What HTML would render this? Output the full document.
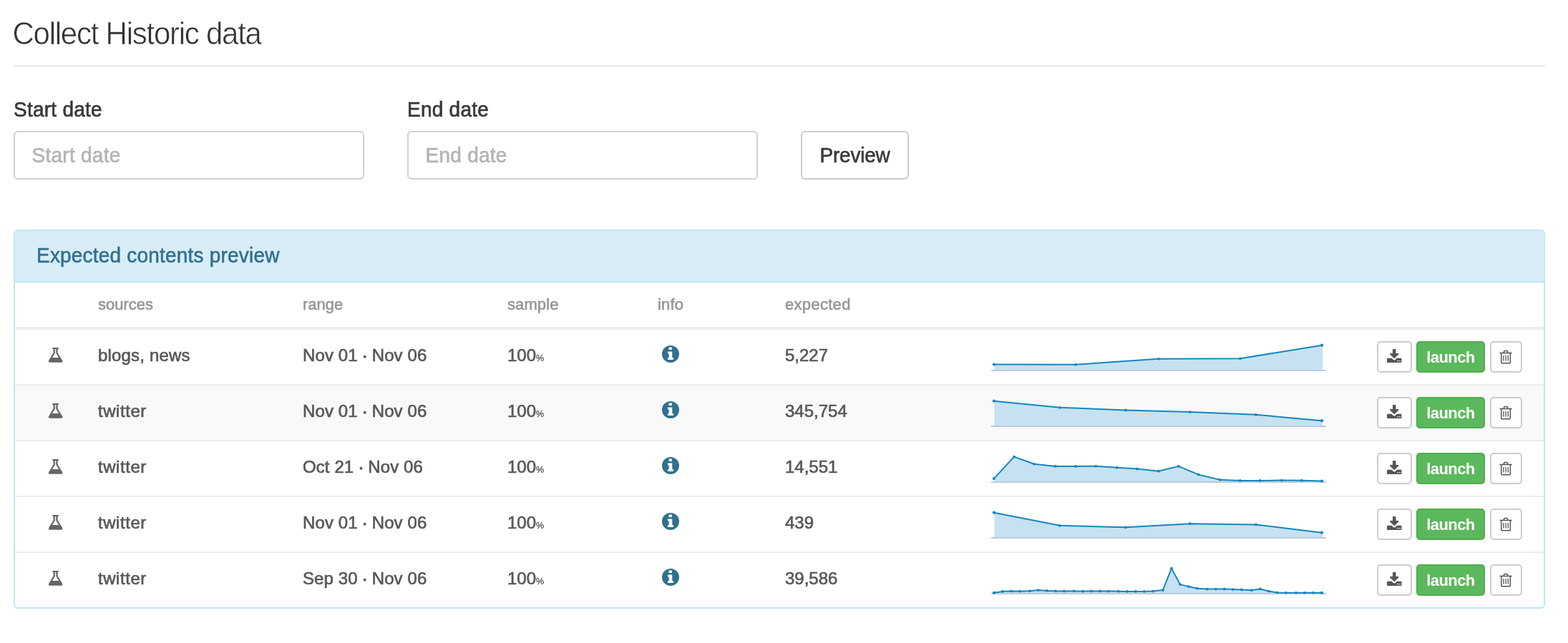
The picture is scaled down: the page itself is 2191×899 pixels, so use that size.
<!DOCTYPE html>
<html lang="en">
<head>
<meta charset="utf-8">
<title>Collect Historic data</title>
<style>
*{box-sizing:border-box;}
html,body{margin:0;padding:0;background:#fff;}
body{font-family:"Liberation Sans",sans-serif;font-size:28px;line-height:40px;color:#333;width:2191px;height:899px;overflow:hidden;position:relative;}
.title{position:absolute;left:17.5px;top:23.5px;font-size:42px;line-height:48px;letter-spacing:-1.25px;color:#333;-webkit-text-stroke:0.6px #fff;white-space:nowrap;transform:scaleY(1.035);transform-origin:0 78%;}
.rule{position:absolute;left:19px;top:91px;width:2140px;height:2px;background:#e5e5e5;}
.lbl{position:absolute;top:133.7px;font-size:28px;line-height:40px;letter-spacing:0.25px;color:#383838;-webkit-text-stroke:0.65px #383838;white-space:nowrap;transform:scaleY(1.03);transform-origin:0 50%;}
.inp{position:absolute;top:183px;width:490px;height:68px;border:2px solid #d0d0d0;border-radius:6px;background:#fff;padding:0 23.6px;font-size:28px;line-height:65px;letter-spacing:0.25px;color:#b3b3b3;-webkit-text-stroke:0.6px #b3b3b3;white-space:nowrap;}
.inp span,.btn-prev span,.phead span{display:inline-block;transform:scaleY(1.03);transform-origin:0 50%;}
.btn-prev{position:absolute;left:1119px;top:183px;width:151px;height:68px;border:2px solid #ccc;border-radius:6px;background:#fff;font-size:28px;line-height:66.4px;color:#3a3a3a;letter-spacing:-0.2px;-webkit-text-stroke:0.6px #3a3a3a;text-align:center;white-space:nowrap;}
.panel{position:absolute;left:19px;top:321px;width:2140px;height:530px;border:2px solid #bce8f1;border-radius:6px;background:#fff;overflow:hidden;}
.phead{position:absolute;left:0;top:0;width:2136px;height:72px;background:#d9edf7;border-bottom:2px solid #bce8f1;color:#31708f;font-size:28px;line-height:70.2px;letter-spacing:0.2px;-webkit-text-stroke:0.55px #31708f;padding-left:30px;white-space:nowrap;}
.thead{position:absolute;left:0;top:72px;width:2136px;height:66px;border-bottom:4px solid #eee;font-size:22px;color:#959595;}
.thead span{position:absolute;top:1px;line-height:60px;white-space:nowrap;-webkit-text-stroke:0.55px #959595;}
.row{position:absolute;left:0;width:2136px;height:78px;border-bottom:2px solid #ececec;}
.row.last{border-bottom:0;height:76px;}
.row.hov{background:#f9f9f9;}
.c{position:absolute;font-size:24px;line-height:34px;color:#585858;white-space:nowrap;letter-spacing:0.17px;-webkit-text-stroke:0.65px #585858;}
.dot{margin:0 -0.9px 0 -0.7px;-webkit-text-stroke:1px #585858;}
.c.n{letter-spacing:0;}
.c.r{letter-spacing:0.1px;}
.c.tw{letter-spacing:0.55px;}
.pc{font-size:12.5px;letter-spacing:0;-webkit-text-stroke:0.3px #585858;}
.ico{position:absolute;}
.spark{position:absolute;}
.b{position:absolute;height:44px;border:2px solid #ccc;border-radius:5px;background:#fff;}
.b.launch{background:#5cb85c;border-color:#4cae4c;color:#fff;font-weight:bold;font-size:22px;line-height:41.5px;text-align:center;letter-spacing:-0.6px;}
</style>
</head>
<body>
<div class="title">Collect Historic data</div>
<div class="rule"></div>
<div class="lbl" style="left:19px">Start date</div>
<div class="lbl" style="left:569px">End date</div>
<div class="inp" style="left:19px"><span>Start date</span></div>
<div class="inp" style="left:569px"><span>End date</span></div>
<div class="btn-prev"><span>Preview</span></div>
<div class="panel">
<div class="phead"><span>Expected contents preview</span></div>
<div class="thead"><span style="left:116px">sources</span><span style="left:402px">range</span><span style="left:688px;letter-spacing:0.1px">sample</span><span style="left:898px;letter-spacing:0.15px">info</span><span style="left:1076px;letter-spacing:0.3px">expected</span></div>
<div class="row" style="top:138px"></div>
<svg class="ico" style="left:45px;top:162px" width="23.2" height="24" viewBox="0 0 24 24" preserveAspectRatio="none"><path fill="#666" fill-rule="evenodd" d="M8.3 1.1 h7.4 a0.9 0.9 0 0 1 0 1.8 h-0.55 v5.35 l6.55 10.4 c0.9 1.5 0.3 3.15 -1.7 3.15 h-16 c-2 0 -2.6 -1.65 -1.7 -3.15 l6.55 -10.4 v-5.35 h-0.55 a0.9 0.9 0 0 1 0 -1.8 zM11.25 2.9 v5.9 l-4.0 6.2 h9.5 l-4.0 -6.2 v-5.9 z"/></svg><span class="c " style="left:116px;top:157px">blogs, news</span><span class="c r" style="left:402px;top:157px">Nov 01 <span class="dot">·</span> Nov 06</span><span class="c n" style="left:688px;top:157px">100<span class="pc">%</span></span><svg class="ico" style="left:904px;top:160px" width="24" height="24" viewBox="0 0 24 24"><circle cx="12" cy="12" r="12" fill="#31708f"/><path fill="#fff" d="M10.1 2.4 h3.4 a0.4 0.4 0 0 1 0.4 0.4 v2.8 a0.4 0.4 0 0 1 -0.4 0.4 h-3.6 a0.4 0.4 0 0 1 -0.4 -0.4 v-2.8 a0.4 0.4 0 0 1 0.4 -0.4 zM8.4 8.4 h5.5 a0.4 0.4 0 0 1 0.4 0.4 v8.1 h1.3 a0.4 0.4 0 0 1 0.4 0.4 v2.4 a0.4 0.4 0 0 1 -0.4 0.4 h-7.2 a0.4 0.4 0 0 1 -0.4 -0.4 v-2.4 a0.4 0.4 0 0 1 0.4 -0.4 h1.3 v-5.3 h-1.3 a0.4 0.4 0 0 1 -0.4 -0.4 v-2.4 a0.4 0.4 0 0 1 0.4 -0.4 z"/></svg><span class="c n" style="left:1076px;top:157px">5,227</span><svg class="spark" style="left:1359px;top:138px" width="480" height="76" viewBox="0 0 480 76"><path d="M9.50,57.00 L9.50,48.60 L123.00,48.80 L238.90,40.80 L352.90,40.30 L468.10,21.70 L468.10,57.00 Z" fill="#c6e2f0"/><rect x="5" y="56" width="468" height="2" fill="#bccbdd"/><polyline points="8.90,48.60 123.00,48.80 238.90,40.80 352.90,40.30 467.10,21.70" fill="none" stroke="#1586c0" stroke-width="2" stroke-linejoin="round" stroke-linecap="round"/><g fill="#1586c0"><circle cx="8.90" cy="48.60" r="2.1"/><circle cx="123.00" cy="48.80" r="1.9"/><circle cx="238.90" cy="40.80" r="1.9"/><circle cx="352.90" cy="40.30" r="1.9"/><circle cx="467.10" cy="21.70" r="2.1"/></g></svg><div class="b" style="left:1903px;top:154px;width:49px"><svg width="24" height="24" viewBox="0 0 24 24" style="position:absolute;left:10px;top:8px"><path fill="#555" fill-rule="evenodd" d="M10.9 1.1 h2.7 a0.9 0.9 0 0 1 0.9 0.9 v5.1 h3.1 c0.8 0 1.1 0.8 0.6 1.35 l-5.3 5.3 a0.9 0.9 0 0 1 -1.3 0 l-5.3 -5.3 c-0.5 -0.55 -0.2 -1.35 0.6 -1.35 h3.1 v-5.1 a0.9 0.9 0 0 1 0.9 -0.9 zM3.1 13.8 h5.6 l1.9 1.9 a2.3 2.3 0 0 0 3.3 0 l1.9 -1.9 h5.6 a1.1 1.1 0 0 1 1.1 1.1 v4.0 a1.1 1.1 0 0 1 -1.1 1.1 h-18.3 a1.1 1.1 0 0 1 -1.1 -1.1 v-4.0 a1.1 1.1 0 0 1 1.1 -1.1 zM16.2 16.9 h1.7 v1.3 h-1.7 z M19.2 16.9 h1.7 v1.3 h-1.7 z"/></svg></div><div class="b launch" style="left:1958px;top:154px;width:96px"><span>launch</span></div><div class="b" style="left:2061px;top:154px;width:45px"><svg width="24" height="24" viewBox="0 0 24 24" style="position:absolute;left:8px;top:8px"><g fill="none" stroke="#555" stroke-width="1.5" stroke-linecap="round" stroke-linejoin="round"><path d="M4.1 6.55 H20.1"/><path d="M9.0 6.3 L9.8 4.2 a1 1 0 0 1 .9 -.65 h2.8 a1 1 0 0 1 .9 .65 L15.2 6.3"/><path d="M5.8 6.8 V18.9 a1.9 1.9 0 0 0 1.9 1.9 h8.8 a1.9 1.9 0 0 0 1.9 -1.9 V6.8"/></g><g fill="none" stroke="#555" stroke-width="1.3" stroke-linecap="round"><path d="M8.9 10.4 V17"/><path d="M12.1 10.4 V17"/><path d="M15.3 10.4 V17"/></g></svg></div>
<div class="row hov" style="top:216px"></div>
<svg class="ico" style="left:45px;top:240px" width="23.2" height="24" viewBox="0 0 24 24" preserveAspectRatio="none"><path fill="#666" fill-rule="evenodd" d="M8.3 1.1 h7.4 a0.9 0.9 0 0 1 0 1.8 h-0.55 v5.35 l6.55 10.4 c0.9 1.5 0.3 3.15 -1.7 3.15 h-16 c-2 0 -2.6 -1.65 -1.7 -3.15 l6.55 -10.4 v-5.35 h-0.55 a0.9 0.9 0 0 1 0 -1.8 zM11.25 2.9 v5.9 l-4.0 6.2 h9.5 l-4.0 -6.2 v-5.9 z"/></svg><span class="c tw" style="left:116px;top:235px">twitter</span><span class="c r" style="left:402px;top:235px">Nov 01 <span class="dot">·</span> Nov 06</span><span class="c n" style="left:688px;top:235px">100<span class="pc">%</span></span><svg class="ico" style="left:904px;top:238px" width="24" height="24" viewBox="0 0 24 24"><circle cx="12" cy="12" r="12" fill="#31708f"/><path fill="#fff" d="M10.1 2.4 h3.4 a0.4 0.4 0 0 1 0.4 0.4 v2.8 a0.4 0.4 0 0 1 -0.4 0.4 h-3.6 a0.4 0.4 0 0 1 -0.4 -0.4 v-2.8 a0.4 0.4 0 0 1 0.4 -0.4 zM8.4 8.4 h5.5 a0.4 0.4 0 0 1 0.4 0.4 v8.1 h1.3 a0.4 0.4 0 0 1 0.4 0.4 v2.4 a0.4 0.4 0 0 1 -0.4 0.4 h-7.2 a0.4 0.4 0 0 1 -0.4 -0.4 v-2.4 a0.4 0.4 0 0 1 0.4 -0.4 h1.3 v-5.3 h-1.3 a0.4 0.4 0 0 1 -0.4 -0.4 v-2.4 a0.4 0.4 0 0 1 0.4 -0.4 z"/></svg><span class="c n" style="left:1076px;top:235px">345,754</span><svg class="spark" style="left:1359px;top:216px" width="480" height="76" viewBox="0 0 480 76"><path d="M9.50,57.00 L9.50,21.65 L100.90,30.80 L193.00,34.50 L282.80,37.06 L374.90,40.80 L468.10,49.15 L468.10,57.00 Z" fill="#c6e2f0"/><rect x="5" y="56" width="468" height="2" fill="#bccbdd"/><polyline points="8.90,21.65 100.90,30.80 193.00,34.50 282.80,37.06 374.90,40.80 467.10,49.15" fill="none" stroke="#1586c0" stroke-width="2" stroke-linejoin="round" stroke-linecap="round"/><g fill="#1586c0"><circle cx="8.90" cy="21.65" r="2.1"/><circle cx="100.90" cy="30.80" r="1.9"/><circle cx="193.00" cy="34.50" r="1.9"/><circle cx="282.80" cy="37.06" r="1.9"/><circle cx="374.90" cy="40.80" r="1.9"/><circle cx="467.10" cy="49.15" r="2.1"/></g></svg><div class="b" style="left:1903px;top:232px;width:49px"><svg width="24" height="24" viewBox="0 0 24 24" style="position:absolute;left:10px;top:8px"><path fill="#555" fill-rule="evenodd" d="M10.9 1.1 h2.7 a0.9 0.9 0 0 1 0.9 0.9 v5.1 h3.1 c0.8 0 1.1 0.8 0.6 1.35 l-5.3 5.3 a0.9 0.9 0 0 1 -1.3 0 l-5.3 -5.3 c-0.5 -0.55 -0.2 -1.35 0.6 -1.35 h3.1 v-5.1 a0.9 0.9 0 0 1 0.9 -0.9 zM3.1 13.8 h5.6 l1.9 1.9 a2.3 2.3 0 0 0 3.3 0 l1.9 -1.9 h5.6 a1.1 1.1 0 0 1 1.1 1.1 v4.0 a1.1 1.1 0 0 1 -1.1 1.1 h-18.3 a1.1 1.1 0 0 1 -1.1 -1.1 v-4.0 a1.1 1.1 0 0 1 1.1 -1.1 zM16.2 16.9 h1.7 v1.3 h-1.7 z M19.2 16.9 h1.7 v1.3 h-1.7 z"/></svg></div><div class="b launch" style="left:1958px;top:232px;width:96px"><span>launch</span></div><div class="b" style="left:2061px;top:232px;width:45px"><svg width="24" height="24" viewBox="0 0 24 24" style="position:absolute;left:8px;top:8px"><g fill="none" stroke="#555" stroke-width="1.5" stroke-linecap="round" stroke-linejoin="round"><path d="M4.1 6.55 H20.1"/><path d="M9.0 6.3 L9.8 4.2 a1 1 0 0 1 .9 -.65 h2.8 a1 1 0 0 1 .9 .65 L15.2 6.3"/><path d="M5.8 6.8 V18.9 a1.9 1.9 0 0 0 1.9 1.9 h8.8 a1.9 1.9 0 0 0 1.9 -1.9 V6.8"/></g><g fill="none" stroke="#555" stroke-width="1.3" stroke-linecap="round"><path d="M8.9 10.4 V17"/><path d="M12.1 10.4 V17"/><path d="M15.3 10.4 V17"/></g></svg></div>
<div class="row" style="top:294px"></div>
<svg class="ico" style="left:45px;top:318px" width="23.2" height="24" viewBox="0 0 24 24" preserveAspectRatio="none"><path fill="#666" fill-rule="evenodd" d="M8.3 1.1 h7.4 a0.9 0.9 0 0 1 0 1.8 h-0.55 v5.35 l6.55 10.4 c0.9 1.5 0.3 3.15 -1.7 3.15 h-16 c-2 0 -2.6 -1.65 -1.7 -3.15 l6.55 -10.4 v-5.35 h-0.55 a0.9 0.9 0 0 1 0 -1.8 zM11.25 2.9 v5.9 l-4.0 6.2 h9.5 l-4.0 -6.2 v-5.9 z"/></svg><span class="c tw" style="left:116px;top:313px">twitter</span><span class="c r" style="left:402px;top:313px">Oct 21 <span class="dot">·</span> Nov 06</span><span class="c n" style="left:688px;top:313px">100<span class="pc">%</span></span><svg class="ico" style="left:904px;top:316px" width="24" height="24" viewBox="0 0 24 24"><circle cx="12" cy="12" r="12" fill="#31708f"/><path fill="#fff" d="M10.1 2.4 h3.4 a0.4 0.4 0 0 1 0.4 0.4 v2.8 a0.4 0.4 0 0 1 -0.4 0.4 h-3.6 a0.4 0.4 0 0 1 -0.4 -0.4 v-2.8 a0.4 0.4 0 0 1 0.4 -0.4 zM8.4 8.4 h5.5 a0.4 0.4 0 0 1 0.4 0.4 v8.1 h1.3 a0.4 0.4 0 0 1 0.4 0.4 v2.4 a0.4 0.4 0 0 1 -0.4 0.4 h-7.2 a0.4 0.4 0 0 1 -0.4 -0.4 v-2.4 a0.4 0.4 0 0 1 0.4 -0.4 h1.3 v-5.3 h-1.3 a0.4 0.4 0 0 1 -0.4 -0.4 v-2.4 a0.4 0.4 0 0 1 0.4 -0.4 z"/></svg><span class="c n" style="left:1076px;top:313px">14,551</span><svg class="spark" style="left:1359px;top:294px" width="480" height="76" viewBox="0 0 480 76"><path d="M9.50,57.00 L9.50,52.10 L37.00,21.65 L65.00,31.80 L94.80,34.90 L123.00,35.00 L151.10,34.80 L180.90,36.80 L209.00,38.50 L238.80,41.70 L266.90,34.90 L294.80,46.60 L324.70,53.80 L352.90,54.90 L381.00,55.00 L410.90,54.60 L438.80,54.70 L468.10,55.50 L468.10,57.00 Z" fill="#c6e2f0"/><rect x="5" y="56" width="468" height="2" fill="#bccbdd"/><polyline points="8.90,52.10 37.00,21.65 65.00,31.80 94.80,34.90 123.00,35.00 151.10,34.80 180.90,36.80 209.00,38.50 238.80,41.70 266.90,34.90 294.80,46.60 324.70,53.80 352.90,54.90 381.00,55.00 410.90,54.60 438.80,54.70 467.10,55.50" fill="none" stroke="#1586c0" stroke-width="2" stroke-linejoin="round" stroke-linecap="round"/><g fill="#1586c0"><circle cx="8.90" cy="52.10" r="2.1"/><circle cx="37.00" cy="21.65" r="1.9"/><circle cx="65.00" cy="31.80" r="1.9"/><circle cx="94.80" cy="34.90" r="1.9"/><circle cx="123.00" cy="35.00" r="1.9"/><circle cx="151.10" cy="34.80" r="1.9"/><circle cx="180.90" cy="36.80" r="1.9"/><circle cx="209.00" cy="38.50" r="1.9"/><circle cx="238.80" cy="41.70" r="1.9"/><circle cx="266.90" cy="34.90" r="1.9"/><circle cx="294.80" cy="46.60" r="1.9"/><circle cx="324.70" cy="53.80" r="1.9"/><circle cx="352.90" cy="54.90" r="1.9"/><circle cx="381.00" cy="55.00" r="1.9"/><circle cx="410.90" cy="54.60" r="1.9"/><circle cx="438.80" cy="54.70" r="1.9"/><circle cx="467.10" cy="55.50" r="2.1"/></g></svg><div class="b" style="left:1903px;top:310px;width:49px"><svg width="24" height="24" viewBox="0 0 24 24" style="position:absolute;left:10px;top:8px"><path fill="#555" fill-rule="evenodd" d="M10.9 1.1 h2.7 a0.9 0.9 0 0 1 0.9 0.9 v5.1 h3.1 c0.8 0 1.1 0.8 0.6 1.35 l-5.3 5.3 a0.9 0.9 0 0 1 -1.3 0 l-5.3 -5.3 c-0.5 -0.55 -0.2 -1.35 0.6 -1.35 h3.1 v-5.1 a0.9 0.9 0 0 1 0.9 -0.9 zM3.1 13.8 h5.6 l1.9 1.9 a2.3 2.3 0 0 0 3.3 0 l1.9 -1.9 h5.6 a1.1 1.1 0 0 1 1.1 1.1 v4.0 a1.1 1.1 0 0 1 -1.1 1.1 h-18.3 a1.1 1.1 0 0 1 -1.1 -1.1 v-4.0 a1.1 1.1 0 0 1 1.1 -1.1 zM16.2 16.9 h1.7 v1.3 h-1.7 z M19.2 16.9 h1.7 v1.3 h-1.7 z"/></svg></div><div class="b launch" style="left:1958px;top:310px;width:96px"><span>launch</span></div><div class="b" style="left:2061px;top:310px;width:45px"><svg width="24" height="24" viewBox="0 0 24 24" style="position:absolute;left:8px;top:8px"><g fill="none" stroke="#555" stroke-width="1.5" stroke-linecap="round" stroke-linejoin="round"><path d="M4.1 6.55 H20.1"/><path d="M9.0 6.3 L9.8 4.2 a1 1 0 0 1 .9 -.65 h2.8 a1 1 0 0 1 .9 .65 L15.2 6.3"/><path d="M5.8 6.8 V18.9 a1.9 1.9 0 0 0 1.9 1.9 h8.8 a1.9 1.9 0 0 0 1.9 -1.9 V6.8"/></g><g fill="none" stroke="#555" stroke-width="1.3" stroke-linecap="round"><path d="M8.9 10.4 V17"/><path d="M12.1 10.4 V17"/><path d="M15.3 10.4 V17"/></g></svg></div>
<div class="row" style="top:372px"></div>
<svg class="ico" style="left:45px;top:396px" width="23.2" height="24" viewBox="0 0 24 24" preserveAspectRatio="none"><path fill="#666" fill-rule="evenodd" d="M8.3 1.1 h7.4 a0.9 0.9 0 0 1 0 1.8 h-0.55 v5.35 l6.55 10.4 c0.9 1.5 0.3 3.15 -1.7 3.15 h-16 c-2 0 -2.6 -1.65 -1.7 -3.15 l6.55 -10.4 v-5.35 h-0.55 a0.9 0.9 0 0 1 0 -1.8 zM11.25 2.9 v5.9 l-4.0 6.2 h9.5 l-4.0 -6.2 v-5.9 z"/></svg><span class="c tw" style="left:116px;top:391px">twitter</span><span class="c r" style="left:402px;top:391px">Nov 01 <span class="dot">·</span> Nov 06</span><span class="c n" style="left:688px;top:391px">100<span class="pc">%</span></span><svg class="ico" style="left:904px;top:394px" width="24" height="24" viewBox="0 0 24 24"><circle cx="12" cy="12" r="12" fill="#31708f"/><path fill="#fff" d="M10.1 2.4 h3.4 a0.4 0.4 0 0 1 0.4 0.4 v2.8 a0.4 0.4 0 0 1 -0.4 0.4 h-3.6 a0.4 0.4 0 0 1 -0.4 -0.4 v-2.8 a0.4 0.4 0 0 1 0.4 -0.4 zM8.4 8.4 h5.5 a0.4 0.4 0 0 1 0.4 0.4 v8.1 h1.3 a0.4 0.4 0 0 1 0.4 0.4 v2.4 a0.4 0.4 0 0 1 -0.4 0.4 h-7.2 a0.4 0.4 0 0 1 -0.4 -0.4 v-2.4 a0.4 0.4 0 0 1 0.4 -0.4 h1.3 v-5.3 h-1.3 a0.4 0.4 0 0 1 -0.4 -0.4 v-2.4 a0.4 0.4 0 0 1 0.4 -0.4 z"/></svg><span class="c n" style="left:1076px;top:391px">439</span><svg class="spark" style="left:1359px;top:372px" width="480" height="76" viewBox="0 0 480 76"><path d="M9.50,57.00 L9.50,21.65 L100.90,39.80 L193.00,42.30 L282.80,37.20 L374.90,38.40 L468.10,49.70 L468.10,57.00 Z" fill="#c6e2f0"/><rect x="5" y="56" width="468" height="2" fill="#bccbdd"/><polyline points="8.90,21.65 100.90,39.80 193.00,42.30 282.80,37.20 374.90,38.40 467.10,49.70" fill="none" stroke="#1586c0" stroke-width="2" stroke-linejoin="round" stroke-linecap="round"/><g fill="#1586c0"><circle cx="8.90" cy="21.65" r="2.1"/><circle cx="100.90" cy="39.80" r="1.9"/><circle cx="193.00" cy="42.30" r="1.9"/><circle cx="282.80" cy="37.20" r="1.9"/><circle cx="374.90" cy="38.40" r="1.9"/><circle cx="467.10" cy="49.70" r="2.1"/></g></svg><div class="b" style="left:1903px;top:388px;width:49px"><svg width="24" height="24" viewBox="0 0 24 24" style="position:absolute;left:10px;top:8px"><path fill="#555" fill-rule="evenodd" d="M10.9 1.1 h2.7 a0.9 0.9 0 0 1 0.9 0.9 v5.1 h3.1 c0.8 0 1.1 0.8 0.6 1.35 l-5.3 5.3 a0.9 0.9 0 0 1 -1.3 0 l-5.3 -5.3 c-0.5 -0.55 -0.2 -1.35 0.6 -1.35 h3.1 v-5.1 a0.9 0.9 0 0 1 0.9 -0.9 zM3.1 13.8 h5.6 l1.9 1.9 a2.3 2.3 0 0 0 3.3 0 l1.9 -1.9 h5.6 a1.1 1.1 0 0 1 1.1 1.1 v4.0 a1.1 1.1 0 0 1 -1.1 1.1 h-18.3 a1.1 1.1 0 0 1 -1.1 -1.1 v-4.0 a1.1 1.1 0 0 1 1.1 -1.1 zM16.2 16.9 h1.7 v1.3 h-1.7 z M19.2 16.9 h1.7 v1.3 h-1.7 z"/></svg></div><div class="b launch" style="left:1958px;top:388px;width:96px"><span>launch</span></div><div class="b" style="left:2061px;top:388px;width:45px"><svg width="24" height="24" viewBox="0 0 24 24" style="position:absolute;left:8px;top:8px"><g fill="none" stroke="#555" stroke-width="1.5" stroke-linecap="round" stroke-linejoin="round"><path d="M4.1 6.55 H20.1"/><path d="M9.0 6.3 L9.8 4.2 a1 1 0 0 1 .9 -.65 h2.8 a1 1 0 0 1 .9 .65 L15.2 6.3"/><path d="M5.8 6.8 V18.9 a1.9 1.9 0 0 0 1.9 1.9 h8.8 a1.9 1.9 0 0 0 1.9 -1.9 V6.8"/></g><g fill="none" stroke="#555" stroke-width="1.3" stroke-linecap="round"><path d="M8.9 10.4 V17"/><path d="M12.1 10.4 V17"/><path d="M15.3 10.4 V17"/></g></svg></div>
<div class="row last" style="top:450px"></div>
<svg class="ico" style="left:45px;top:474px" width="23.2" height="24" viewBox="0 0 24 24" preserveAspectRatio="none"><path fill="#666" fill-rule="evenodd" d="M8.3 1.1 h7.4 a0.9 0.9 0 0 1 0 1.8 h-0.55 v5.35 l6.55 10.4 c0.9 1.5 0.3 3.15 -1.7 3.15 h-16 c-2 0 -2.6 -1.65 -1.7 -3.15 l6.55 -10.4 v-5.35 h-0.55 a0.9 0.9 0 0 1 0 -1.8 zM11.25 2.9 v5.9 l-4.0 6.2 h9.5 l-4.0 -6.2 v-5.9 z"/></svg><span class="c tw" style="left:116px;top:469px">twitter</span><span class="c r" style="left:402px;top:469px">Sep 30 <span class="dot">·</span> Nov 06</span><span class="c n" style="left:688px;top:469px">100<span class="pc">%</span></span><svg class="ico" style="left:904px;top:472px" width="24" height="24" viewBox="0 0 24 24"><circle cx="12" cy="12" r="12" fill="#31708f"/><path fill="#fff" d="M10.1 2.4 h3.4 a0.4 0.4 0 0 1 0.4 0.4 v2.8 a0.4 0.4 0 0 1 -0.4 0.4 h-3.6 a0.4 0.4 0 0 1 -0.4 -0.4 v-2.8 a0.4 0.4 0 0 1 0.4 -0.4 zM8.4 8.4 h5.5 a0.4 0.4 0 0 1 0.4 0.4 v8.1 h1.3 a0.4 0.4 0 0 1 0.4 0.4 v2.4 a0.4 0.4 0 0 1 -0.4 0.4 h-7.2 a0.4 0.4 0 0 1 -0.4 -0.4 v-2.4 a0.4 0.4 0 0 1 0.4 -0.4 h1.3 v-5.3 h-1.3 a0.4 0.4 0 0 1 -0.4 -0.4 v-2.4 a0.4 0.4 0 0 1 0.4 -0.4 z"/></svg><span class="c n" style="left:1076px;top:469px">39,586</span><svg class="spark" style="left:1359px;top:450px" width="480" height="76" viewBox="0 0 480 76"><path d="M9.56,57.00 L9.56,55.80 L20.90,54.00 L32.90,53.40 L44.90,53.70 L58.90,53.30 L70.90,52.10 L82.90,52.95 L94.90,53.40 L106.90,53.40 L120.90,53.40 L132.90,53.70 L144.90,53.50 L156.90,53.40 L169.00,53.60 L182.80,53.70 L194.90,53.90 L206.90,53.90 L218.96,53.90 L230.90,53.60 L244.90,52.00 L256.96,21.60 L269.00,44.10 L280.90,47.10 L292.90,49.70 L306.90,50.60 L318.90,50.55 L330.90,50.50 L342.90,51.10 L354.90,51.50 L368.90,52.20 L380.90,50.50 L392.90,53.60 L404.90,55.60 L416.90,55.80 L430.90,55.80 L442.90,55.80 L454.90,55.80 L467.90,55.80 L467.90,57.00 Z" fill="#c6e2f0"/><rect x="5" y="56" width="468" height="2" fill="#bccbdd"/><polyline points="8.96,55.80 20.90,54.00 32.90,53.40 44.90,53.70 58.90,53.30 70.90,52.10 82.90,52.95 94.90,53.40 106.90,53.40 120.90,53.40 132.90,53.70 144.90,53.50 156.90,53.40 169.00,53.60 182.80,53.70 194.90,53.90 206.90,53.90 218.96,53.90 230.90,53.60 244.90,52.00 256.96,21.60 269.00,44.10 280.90,47.10 292.90,49.70 306.90,50.60 318.90,50.55 330.90,50.50 342.90,51.10 354.90,51.50 368.90,52.20 380.90,50.50 392.90,53.60 404.90,55.60 416.90,55.80 430.90,55.80 442.90,55.80 454.90,55.80 466.90,55.80" fill="none" stroke="#1586c0" stroke-width="2" stroke-linejoin="round" stroke-linecap="round"/><g fill="#1586c0"><circle cx="8.96" cy="55.80" r="2.1"/><circle cx="20.90" cy="54.00" r="1.9"/><circle cx="32.90" cy="53.40" r="1.9"/><circle cx="44.90" cy="53.70" r="1.9"/><circle cx="58.90" cy="53.30" r="1.9"/><circle cx="70.90" cy="52.10" r="1.9"/><circle cx="82.90" cy="52.95" r="1.9"/><circle cx="94.90" cy="53.40" r="1.9"/><circle cx="106.90" cy="53.40" r="1.9"/><circle cx="120.90" cy="53.40" r="1.9"/><circle cx="132.90" cy="53.70" r="1.9"/><circle cx="144.90" cy="53.50" r="1.9"/><circle cx="156.90" cy="53.40" r="1.9"/><circle cx="169.00" cy="53.60" r="1.9"/><circle cx="182.80" cy="53.70" r="1.9"/><circle cx="194.90" cy="53.90" r="1.9"/><circle cx="206.90" cy="53.90" r="1.9"/><circle cx="218.96" cy="53.90" r="1.9"/><circle cx="230.90" cy="53.60" r="1.9"/><circle cx="244.90" cy="52.00" r="1.9"/><circle cx="256.96" cy="21.60" r="1.9"/><circle cx="269.00" cy="44.10" r="1.9"/><circle cx="280.90" cy="47.10" r="1.9"/><circle cx="292.90" cy="49.70" r="1.9"/><circle cx="306.90" cy="50.60" r="1.9"/><circle cx="318.90" cy="50.55" r="1.9"/><circle cx="330.90" cy="50.50" r="1.9"/><circle cx="342.90" cy="51.10" r="1.9"/><circle cx="354.90" cy="51.50" r="1.9"/><circle cx="368.90" cy="52.20" r="1.9"/><circle cx="380.90" cy="50.50" r="1.9"/><circle cx="392.90" cy="53.60" r="1.9"/><circle cx="404.90" cy="55.60" r="1.9"/><circle cx="416.90" cy="55.80" r="1.9"/><circle cx="430.90" cy="55.80" r="1.9"/><circle cx="442.90" cy="55.80" r="1.9"/><circle cx="454.90" cy="55.80" r="1.9"/><circle cx="466.90" cy="55.80" r="2.1"/></g></svg><div class="b" style="left:1903px;top:466px;width:49px"><svg width="24" height="24" viewBox="0 0 24 24" style="position:absolute;left:10px;top:8px"><path fill="#555" fill-rule="evenodd" d="M10.9 1.1 h2.7 a0.9 0.9 0 0 1 0.9 0.9 v5.1 h3.1 c0.8 0 1.1 0.8 0.6 1.35 l-5.3 5.3 a0.9 0.9 0 0 1 -1.3 0 l-5.3 -5.3 c-0.5 -0.55 -0.2 -1.35 0.6 -1.35 h3.1 v-5.1 a0.9 0.9 0 0 1 0.9 -0.9 zM3.1 13.8 h5.6 l1.9 1.9 a2.3 2.3 0 0 0 3.3 0 l1.9 -1.9 h5.6 a1.1 1.1 0 0 1 1.1 1.1 v4.0 a1.1 1.1 0 0 1 -1.1 1.1 h-18.3 a1.1 1.1 0 0 1 -1.1 -1.1 v-4.0 a1.1 1.1 0 0 1 1.1 -1.1 zM16.2 16.9 h1.7 v1.3 h-1.7 z M19.2 16.9 h1.7 v1.3 h-1.7 z"/></svg></div><div class="b launch" style="left:1958px;top:466px;width:96px"><span>launch</span></div><div class="b" style="left:2061px;top:466px;width:45px"><svg width="24" height="24" viewBox="0 0 24 24" style="position:absolute;left:8px;top:8px"><g fill="none" stroke="#555" stroke-width="1.5" stroke-linecap="round" stroke-linejoin="round"><path d="M4.1 6.55 H20.1"/><path d="M9.0 6.3 L9.8 4.2 a1 1 0 0 1 .9 -.65 h2.8 a1 1 0 0 1 .9 .65 L15.2 6.3"/><path d="M5.8 6.8 V18.9 a1.9 1.9 0 0 0 1.9 1.9 h8.8 a1.9 1.9 0 0 0 1.9 -1.9 V6.8"/></g><g fill="none" stroke="#555" stroke-width="1.3" stroke-linecap="round"><path d="M8.9 10.4 V17"/><path d="M12.1 10.4 V17"/><path d="M15.3 10.4 V17"/></g></svg></div>

</div>
</body>
</html>
